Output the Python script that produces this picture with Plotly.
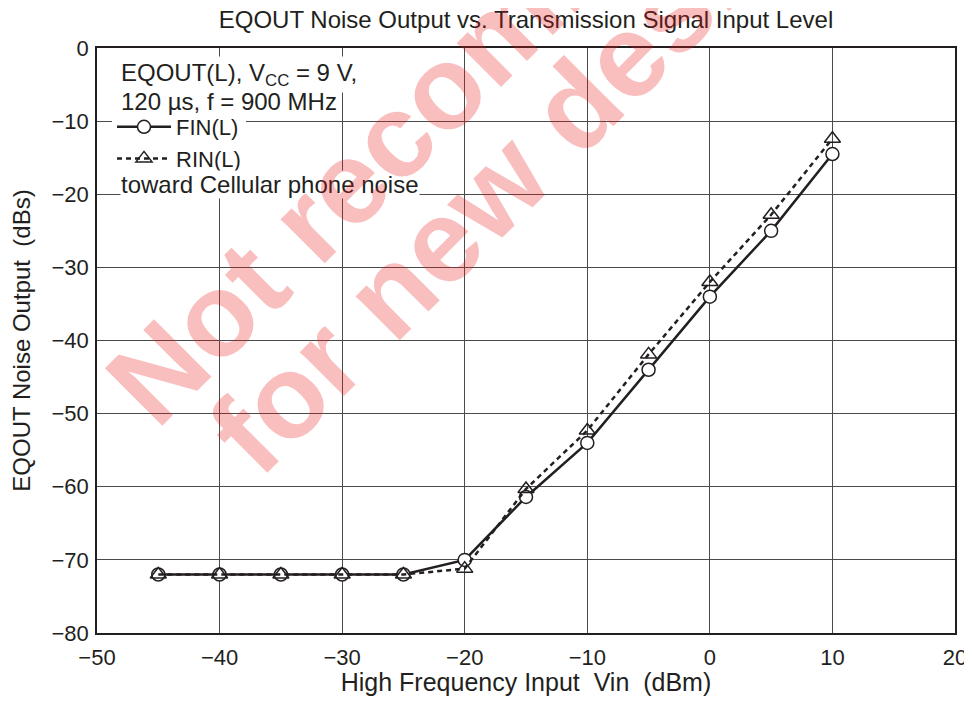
import plotly.graph_objects as go

# ---- data ----
vin = [-45, -40, -35, -30, -25, -20, -15, -10, -5, 0, 5, 10]
fin_l = [-72, -72, -72, -72, -72, -70, -61.4, -54, -44, -34, -25, -14.5]
rin_l = [-72, -72, -72, -72, -72, -71.2, -60.3, -52.3, -41.9, -32, -22.8, -12.4]
x_ticks = [-50, -40, -30, -20, -10, 0, 10, 20]
y_ticks = [-80, -70, -60, -50, -40, -30, -20, -10, 0]

title_text = "EQOUT Noise Output vs. Transmission Signal Input Level"
x_title = "High Frequency Input\u00a0\u00a0Vin\u00a0\u00a0(dBm)"
y_title = "EQOUT Noise Output\u00a0\u00a0(dBs)"
note_lines = ["EQOUT(L), V<sub>CC</sub> = 9 V,", "120 \u00b5s, f = 900 MHz"]
note_bottom = "toward Cellular phone noise"
watermark = ["Not recommended", "for new designs"]

FONT = "Liberation Sans, Arial, Helvetica, sans-serif"
INK = "#231f20"

# page has an 8px body margin; plot area on screen spans x 97..955, y 48..633
W, H = 964, 688
L, R, T, B = 89, 17, 40, 63
pw, ph = W - L - R, H - T - B


def px(xs):
    return (xs - 8 - L) / pw


def py(ys):
    return (H - B - (ys - 8)) / ph


fig = go.Figure()
fig.add_trace(go.Scatter(
    x=vin, y=fin_l, name="FIN(L)", mode="lines+markers",
    line=dict(color=INK, width=2.5),
    marker=dict(symbol="circle", size=13, color="white",
                line=dict(color=INK, width=1.5)),
))
fig.add_trace(go.Scatter(
    x=vin, y=rin_l, name="RIN(L)", mode="lines+markers",
    line=dict(color=INK, width=2.5, dash="5px,4px"),
    marker=dict(symbol="triangle-up-open", size=14, color=INK,
                line=dict(color=INK, width=1.5)),
))

axis_common = dict(
    showgrid=True, gridcolor="#4a4a4a", gridwidth=1,
    showline=True, linecolor=INK, linewidth=1.5, mirror=True,
    ticks="", zeroline=False, ticklabeloverflow="allow",
    tickfont=dict(family=FONT, size=22, color=INK),
)
fig.update_xaxes(range=[-50, 20], tickvals=x_ticks, ticklabelstandoff=4,
                 title=dict(text=x_title, font=dict(family=FONT, size=25, color=INK), standoff=19),
                 **axis_common)
fig.update_yaxes(range=[-80, 0], tickvals=y_ticks, ticklabelstandoff=2,
                 title=dict(text=y_title, font=dict(family=FONT, size=24, color=INK), standoff=14),
                 **axis_common)

annos = []
# second line first so the first line's subscript stays on top
for ys, t, pad in [(101, note_lines[1], 2), (75, note_lines[0], 2), (185, note_bottom, 0)]:
    annos.append(dict(x=px(120 - pad), y=py(ys), xref="paper", yref="paper", text=t,
                      xanchor="left", yanchor="middle", showarrow=False,
                      bgcolor="white", borderpad=pad,
                      font=dict(family=FONT, size=24, color=INK)))
for (cx, cy), t in zip([(494, 36), (548, 134)], watermark):
    annos.append(dict(x=px(cx), y=py(cy), xref="paper", yref="paper",
                      text="<b>" + t + "</b>", textangle=-45, showarrow=False,
                      xanchor="center", yanchor="middle",
                      font=dict(family=FONT, size=118, color="rgba(235,20,20,0.28)")))

fig.update_layout(
    width=W, height=H,
    margin=dict(l=L, r=R, t=T, b=B, autoexpand=False),
    paper_bgcolor="white", plot_bgcolor="white",
    title=dict(text=title_text, x=0.5, xref="paper", y=1 - 12 / H, yanchor="middle",
               font=dict(family=FONT, size=24, color=INK)),
    showlegend=True,
    legend=dict(x=px(112), y=py(106), xanchor="left", yanchor="top",
                bgcolor="white", borderwidth=0, tracegroupgap=0,
                itemwidth=54,
                font=dict(family=FONT, size=22, color=INK)),
    annotations=annos,
)

fig.write_html("out.html")
